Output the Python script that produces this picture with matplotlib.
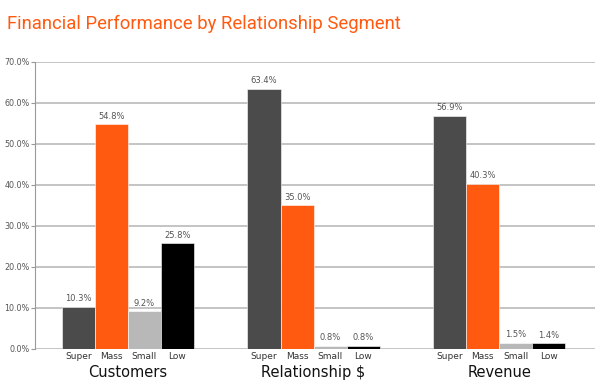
import numpy as np
import matplotlib.pyplot as plt

groups = ['Customers', 'Relationship $', 'Revenue']
segments = ['Super', 'Mass', 'Small', 'Low']
super_vals = [10.3, 63.4, 56.9]
mass_vals = [54.8, 35.0, 40.3]
small_vals = [9.2, 0.8, 1.5]
low_vals = [25.8, 0.8, 1.4]
colors = ['#4b4b4b', '#ff5a10', '#b8b8b8', '#000000']

fig = plt.figure(figsize=(6, 3.86), dpi=100)
ax = fig.add_axes([0.0583, 0.0959, 0.9334, 0.7435])

x = np.arange(len(groups))
w = 0.178
series = [super_vals, mass_vals, small_vals, low_vals]
for i, vals in enumerate(series):
    pos = x + (i - 1.5) * w
    ax.bar(pos, vals, w, color=colors[i], edgecolor='white', linewidth=0.4, zorder=3)
    for p, v in zip(pos, vals):
        ax.text(p, v + 0.9, '%.1f%%' % v, ha='center', va='bottom',
                fontsize=6, color='#555555')
        ax.text(p, -1.8, segments[i], ha='center', va='center',
                fontsize=6.5, color='#333333')

for xi, g in zip(x, groups):
    ax.text(xi, -5.7, g, ha='center', va='center', fontsize=10.5, color='#111111')

ax.set_xlim(-0.5, 2.515)
ax.set_ylim(0, 70)
ax.set_yticks(np.arange(0, 71, 10))
ax.set_yticklabels(['%.1f%%' % t for t in range(0, 71, 10)], fontsize=5.8, color='#555555')
ax.set_xticks([])
ax.grid(axis='y', color='#b4b4b4', linewidth=1.1, zorder=0)
ax.tick_params(axis='y', length=3, color='#999999', pad=1)
for s in ['top', 'right', 'bottom']:
    ax.spines[s].set_visible(False)
ax.spines['left'].set_color('#999999')

fig.text(0.012, 0.937, 'Financial Performance by Relationship Segment',
         fontsize=13.3, color='#ff5a10', family='Roboto',
         va='center', ha='left')

fig.savefig('out.png')
